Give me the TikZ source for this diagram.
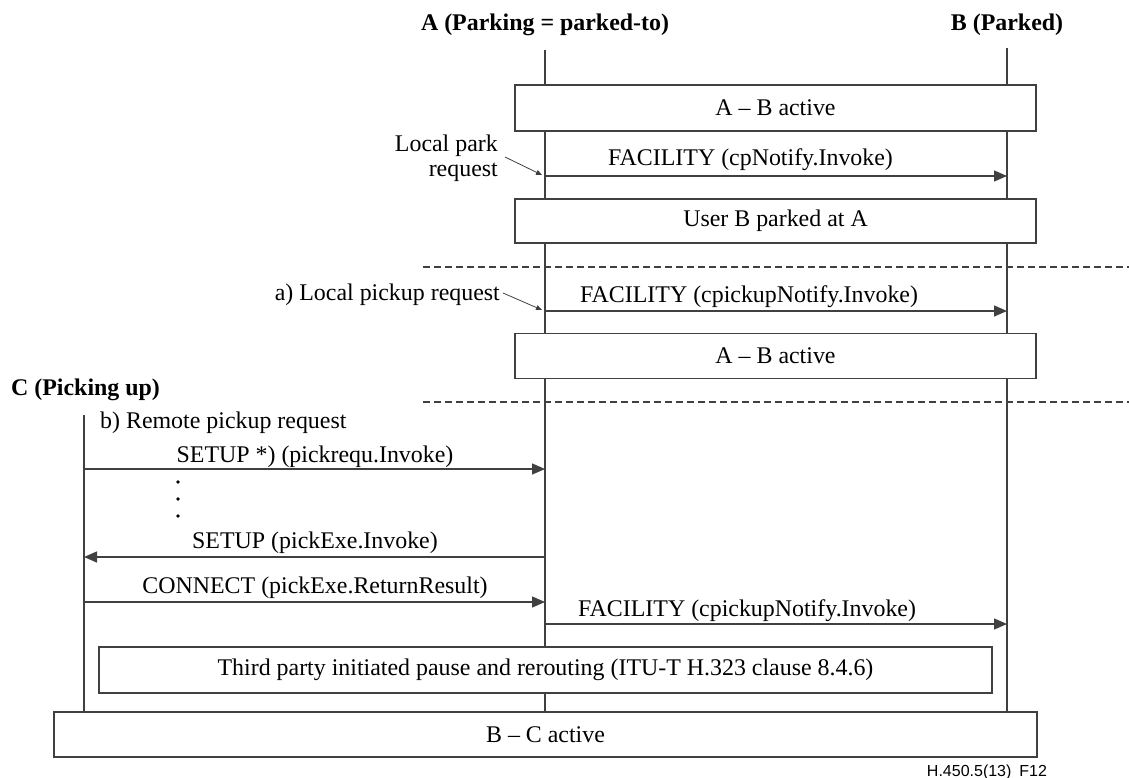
\documentclass[tikz,border=0pt]{standalone}
\usepackage{fontspec}
\setmainfont{Liberation Serif}
\newfontfamily\tagfont{Liberation Sans}
\usetikzlibrary{arrows.meta}
\definecolor{linegray}{rgb}{0.25,0.25,0.25}
\newcommand\txtsize{\fontsize{23.9}{27}\selectfont}
\begin{document}
\begin{tikzpicture}[x=1pt,y=-1pt,
  line/.style={draw=linegray, line width=1.4pt},
  msg/.style={line, -{Triangle[length=13pt,width=11pt]}},
  box/.style={line, fill=white, inner sep=0pt, font=\txtsize},
  lbl/.style={inner sep=0pt, font=\txtsize, anchor=base},
  hdr/.style={inner sep=0pt, font=\txtsize\bfseries, anchor=base},
  sep/.style={line, dash pattern=on 7pt off 4pt},
  pointer/.style={draw=linegray, line width=0.8pt, -{Triangle[length=6pt,width=5pt]}},
]
\useasboundingbox (0,0) rectangle (1129,778);

% headers
\node[hdr] (hA) at (545,31) {A (Parking = parked-to)};
\node[hdr] (hB) at (1007,31) {B (Parked)};
\node[hdr, anchor=base west] (hC) at (11,395) {C (Picking up)};

% lifelines
\coordinate (Atop) at (545,50);  \coordinate (Abot) at (545,712);
\coordinate (Btop) at (1007,48); \coordinate (Bbot) at (1007,712);
\coordinate (Ctop) at (84,415);  \coordinate (Cbot) at (84,712);
\draw[line] (Atop) -- (Abot);
\draw[line] (Btop) -- (Bbot);
\draw[line] (Ctop) -- (Cbot);

% state boxes
\node[box, minimum width=521pt, minimum height=46pt] (s1) at (775.5,108) {A -- B active};
\node[box, minimum width=521pt, minimum height=44pt] (s2) at (775.5,221) {User B parked at A};
\node[box, minimum width=521pt, minimum height=45pt] (s3) at (775.5,356) {A -- B active};
\node[box, minimum width=893pt, minimum height=46pt] (s4) at (545.5,670) {Third party initiated pause and rerouting (ITU-T H.323 clause 8.4.6)};
\node[box, minimum width=983pt, minimum height=45pt] (s5) at (545.5,734.5) {B -- C active};

% phase separators
\coordinate (d1a) at (423,267); \coordinate (d1b) at (1129,267);
\coordinate (d2a) at (423,402); \coordinate (d2b) at (1129,402);
\draw[sep] (d1a) -- (d1b);
\draw[sep] (d2a) -- (d2b);

% message end points
\coordinate (m1a) at (545,176); \coordinate (m1b) at (1007,176);
\coordinate (m2a) at (545,311); \coordinate (m2b) at (1007,311);
\coordinate (m3a) at (84,469);  \coordinate (m3b) at (545,469);
\coordinate (m4a) at (545,557); \coordinate (m4b) at (84,557);
\coordinate (m5a) at (84,602);  \coordinate (m5b) at (545,602);
\coordinate (m6a) at (545,624); \coordinate (m6b) at (1007,624);

\draw[msg] (m1a) -- (m1b);
\draw[msg] (m2a) -- (m2b);
\draw[msg] (m3a) -- (m3b);
\draw[msg] (m4a) -- (m4b);
\draw[msg] (m5a) -- (m5b);
\draw[msg] (m6a) -- (m6b);

\node[lbl, anchor=base west] (l1) at (608,166) {FACILITY (cpNotify.Invoke)};
\node[lbl, anchor=base west] (l2) at (580,302) {FACILITY (cpickupNotify.Invoke)};
\node[lbl] (l3) at (315,462) {SETUP *) (pickrequ.Invoke)};
\node[lbl] (l4) at (315,548) {SETUP (pickExe.Invoke)};
\node[lbl] (l5) at (315,593) {CONNECT (pickExe.ReturnResult)};
\node[lbl, anchor=base west] (l6) at (578,616) {FACILITY (cpickupNotify.Invoke)};

% trigger annotations
\node[lbl, anchor=base east] (lp1) at (498,152) {Local park};
\node[lbl, anchor=base east] (lp2) at (498,177) {request};
\coordinate (lpA) at (505,157); \coordinate (lpB) at (542,175);
\draw[pointer] (lpA) -- (lpB);

\node[lbl, anchor=base east] (lq) at (500,300) {a) Local pickup request};
\coordinate (lqA) at (503,293); \coordinate (lqB) at (542,310);
\draw[pointer] (lqA) -- (lqB);

\node[lbl, anchor=base west] (rq) at (100,428) {b) Remote pickup request};

% continuation dots
\foreach \y/\n in {482/1,499/2,516/3}
  \fill[black] (178,\y) circle[radius=1.8pt] coordinate (dot\n);

% figure tag
\node[inner sep=0pt, anchor=base, font=\tagfont\fontsize{16}{18}\selectfont] (tag) at (987,776) {H.450.5(13)\enspace F12};
\end{tikzpicture}
\end{document}
